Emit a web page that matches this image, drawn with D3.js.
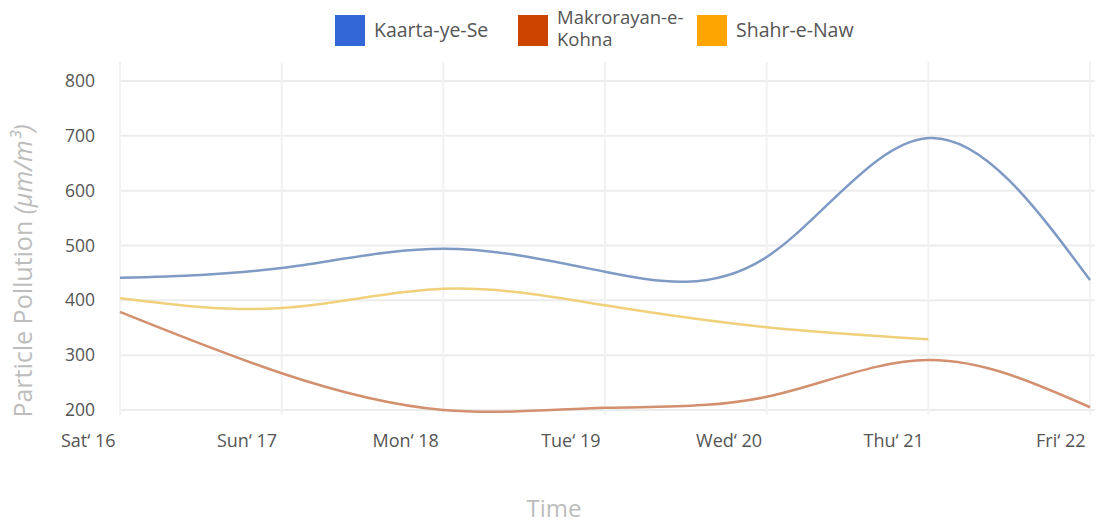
<!DOCTYPE html>
<html>
<head>
<meta charset="utf-8">
<script src="https://cdnjs.cloudflare.com/ajax/libs/d3/7.8.5/d3.min.js"></script>
<style>
    body { margin: 0; background: #fff; }
    svg { font-family: "Open Sans", "Noto Sans", sans-serif; }
</style>
</head>
<body>
<script>
//chart data
var days = ["Sat\u2018 16", "Sun\u2018 17", "Mon\u2018 18", "Tue\u2018 19", "Wed\u2018 20", "Thu\u2018 21", "Fri\u2018 22"];
var seriesNames = ["Kaarta-ye-Se", "Makrorayan-e-Kohna", "Shahr-e-Naw"];
var kaartaValues = [441, 459, 494, 452, 479, 696, 437];
var makrorayanValues = [379, 267, 200, 204, 224, 291, 205];
var shahrValues = [404, 386, 421, 391, 351, 329]; //no reading for Fri
var yTicks = [200, 300, 400, 500, 600, 700, 800];

(function(){

    var width = 1103,
        height = 524;

    var legendColors = ["#3366d6", "#cc4400", "#ffa500"],
        lineColors = ["#7f9ac4", "#d3906f", "#f0d07a"];

    var svg = d3.select("body")
        .append("svg")
        .attr("width", width)
        .attr("height", height);

    //scales
    var x = d3.scalePoint()
        .domain(days)
        .range([120, 1090]);

    var y = d3.scaleLinear()
        .domain([200, 800])
        .range([410, 81]);

    //horizontal gridlines
    svg.append("g")
        .selectAll("line")
        .data(yTicks)
        .enter()
        .append("line")
        .attr("x1", 120)
        .attr("x2", 1095)
        .attr("y1", function(d){ return y(d); })
        .attr("y2", function(d){ return y(d); })
        .attr("stroke", "#ececec")
        .attr("stroke-width", 2);

    //vertical gridlines
    svg.append("g")
        .selectAll("line")
        .data(days)
        .enter()
        .append("line")
        .attr("x1", function(d){ return x(d); })
        .attr("x2", function(d){ return x(d); })
        .attr("y1", 62)
        .attr("y2", 415)
        .attr("stroke", "#f2f2f2")
        .attr("stroke-width", 2);

    //y axis labels
    var yAxis = svg.append("g")
        .attr("transform", "translate(95,0)")
        .call(d3.axisLeft(y).tickValues(yTicks).tickSize(0).tickPadding(0));
    yAxis.select(".domain").remove();
    yAxis.selectAll("text")
        .attr("fill", "#555")
        .style("font-size", "17.5px")
        .style("font-family", "'Open Sans', sans-serif");

    //x axis labels
    var xAxis = svg.append("g")
        .attr("transform", "translate(0,434)")
        .call(d3.axisBottom(x).tickSize(0).tickPadding(0));
    xAxis.select(".domain").remove();
    xAxis.selectAll("text")
        .attr("fill", "#555")
        .attr("text-anchor", "end")
        .attr("dx", "-5")
        .style("font-size", "18px")
        .style("font-family", "'Open Sans', sans-serif");

    //lines
    var allValues = [kaartaValues, makrorayanValues, shahrValues];
    var line = d3.line()
        .x(function(d, i){ return x(days[i]); })
        .y(function(d){ return y(d); })
        .curve(d3.curveNatural);

    svg.append("g")
        .selectAll("path")
        .data(allValues)
        .enter()
        .append("path")
        .attr("d", line)
        .attr("fill", "none")
        .attr("stroke", function(d, i){ return lineColors[i]; })
        .attr("stroke-width", 2.5);

    //legend
    var legendX = [335, 518, 697];
    var legend = svg.append("g");
    seriesNames.forEach(function(name, i){
        legend.append("rect")
            .attr("x", legendX[i])
            .attr("y", 15)
            .attr("width", 30)
            .attr("height", 31)
            .attr("fill", legendColors[i]);
        if (name == "Makrorayan-e-Kohna"){
            //wrapped over two lines like the original
            legend.append("text")
                .attr("x", legendX[i] + 39)
                .attr("y", 24)
                .attr("fill", "#555")
                .style("font-size", "18.5px")
                .text("Makrorayan-e-");
            legend.append("text")
                .attr("x", legendX[i] + 39)
                .attr("y", 46)
                .attr("fill", "#555")
                .style("font-size", "18.5px")
                .text("Kohna");
        } else {
            legend.append("text")
                .attr("x", legendX[i] + 39)
                .attr("y", 37)
                .attr("fill", "#555")
                .style("font-size", "19.5px")
                .text(name);
        }
    });

    //axis titles
    svg.append("text")
        .attr("transform", "translate(32,271) rotate(-90)")
        .attr("text-anchor", "middle")
        .attr("fill", "#bdbdbd")
        .style("font-size", "25px")
        .html("Particle Pollution <tspan font-style='italic'>(\u03bcm/m\u00b3)</tspan>");

    svg.append("text")
        .attr("x", 554)
        .attr("y", 517)
        .attr("text-anchor", "middle")
        .attr("fill", "#bdbdbd")
        .style("font-size", "24px")
        .text("Time");

})();
</script>
</body>
</html>
